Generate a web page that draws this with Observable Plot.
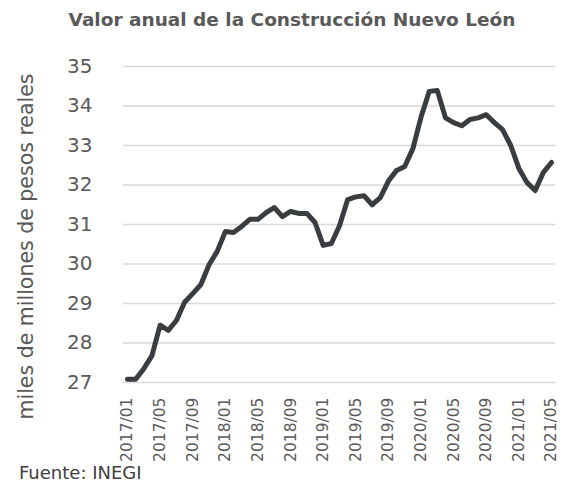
<!DOCTYPE html>
<html>
<head>
<meta charset="utf-8">
<script src="https://cdn.jsdelivr.net/npm/d3@7"></script>
<script src="https://cdn.jsdelivr.net/npm/@observablehq/plot@0.6"></script>
<style>
  html, body { margin: 0; padding: 0; background: #fff; }
  body { width: 566px; height: 487px; overflow: hidden; font-family: "DejaVu Sans", sans-serif; }
  #title { height: 40px; line-height: 40px; text-align: center; padding-left: 18px; box-sizing: border-box;
           font-weight: 700; font-size: 18.5px; color: #595959; white-space: nowrap; }
  #caption { font-size: 18px; line-height: 26px; color: #404040; padding-left: 19px; }
  svg { display: block; }
</style>
</head>
<body>
<div id="title">Valor anual de la Construcción Nuevo León</div>
<div id="chart"></div>
<div id="caption">Fuente: INEGI</div>
<script>
const months = [
  "2017/01","2017/02","2017/03","2017/04","2017/05","2017/06","2017/07","2017/08","2017/09","2017/10","2017/11","2017/12",
  "2018/01","2018/02","2018/03","2018/04","2018/05","2018/06","2018/07","2018/08","2018/09","2018/10","2018/11","2018/12",
  "2019/01","2019/02","2019/03","2019/04","2019/05","2019/06","2019/07","2019/08","2019/09","2019/10","2019/11","2019/12",
  "2020/01","2020/02","2020/03","2020/04","2020/05","2020/06","2020/07","2020/08","2020/09","2020/10","2020/11","2020/12",
  "2021/01","2021/02","2021/03","2021/04","2021/05"
];
const values = [
  27.08, 27.08, 27.35, 27.68, 28.45, 28.32, 28.57, 29.03, 29.25, 29.48, 29.98, 30.32,
  30.82, 30.80, 30.95, 31.13, 31.13, 31.30, 31.43, 31.20, 31.33, 31.28, 31.28, 31.05,
  30.47, 30.52, 30.97, 31.63, 31.70, 31.73, 31.50, 31.68, 32.10, 32.37, 32.47, 32.92,
  33.72, 34.37, 34.39, 33.70, 33.58, 33.50, 33.66, 33.70, 33.78, 33.58, 33.40, 33.00,
  32.42, 32.06, 31.86, 32.32, 32.57
];
const xTickLabels = ["2017/01","2017/05","2017/09","2018/01","2018/05","2018/09","2019/01","2019/05","2019/09","2020/01","2020/05","2020/09","2021/01","2021/05"];
const yTicks = [27, 28, 29, 30, 31, 32, 33, 34, 35];
const yLabel = "miles de millones de pesos reales";

const data = months.map((m, i) => ({i, m, v: values[i]}));
const xTickIdx = xTickLabels.map(l => months.indexOf(l));

const chart = Plot.plot({
  width: 566,
  height: 420,
  marginTop: 26,
  marginBottom: 78,
  marginLeft: 123,
  marginRight: 11,
  style: {fontFamily: "'DejaVu Sans', sans-serif", color: "#595959", background: "white", overflow: "visible"},
  x: {domain: [0, months.length - 1], inset: 4},
  y: {domain: [27, 35]},
  marks: [
    Plot.ruleY(yTicks, {stroke: "#d9d9d9", strokeWidth: 1.5}),
    Plot.lineY(data, {x: "i", y: "v", stroke: "#3a3d40", strokeWidth: 5, strokeLinejoin: "round", strokeLinecap: "round"}),
    Plot.axisY({ticks: yTicks, tickSize: 0, tickPadding: 31, fontSize: 20, label: null, fill: "#595959"}),
    Plot.axisX({ticks: xTickIdx, tickFormat: i => months[i], tickRotate: -90, tickSize: 0, tickPadding: 15, fontSize: 15.5, label: null, fill: "#595959"}),
    Plot.text([yLabel], {frameAnchor: "left", textAnchor: "middle", rotate: -90, dx: -97, dy: 22, fontSize: 20.5, fill: "#595959"})
  ]
});
document.getElementById("chart").appendChild(chart);
</script>
</body>
</html>
